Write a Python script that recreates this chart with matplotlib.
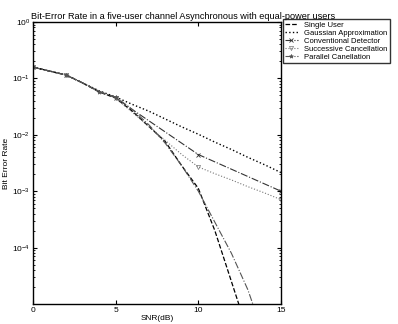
import matplotlib
matplotlib.use("Agg")
import matplotlib.pyplot as plt
import numpy as np

snr = [0, 1, 2, 3, 4, 5, 6, 7, 8, 9, 10, 11, 12, 13, 14, 15]

# log10 of the bit error rate
single_user = [-0.80, -0.87, -0.94, -1.08, -1.24, -1.35, -1.58, -1.85,
               -2.12, -2.55, -2.95, -3.70, -4.60, -5.50, np.nan, np.nan]
gaussian = [-0.80, -0.87, -0.94, -1.08, -1.22, -1.33, -1.46, -1.58,
            -1.72, -1.86, -1.99, -2.13, -2.26, -2.40, -2.53, -2.67]
conventional = [-0.80, -0.87, -0.94, -1.08, -1.23, -1.34, -1.55, -1.75,
                -1.95, -2.15, -2.35, -2.48, -2.61, -2.74, -2.87, -3.00]
successive = [-0.80, -0.87, -0.94, -1.08, -1.23, -1.35, -1.60, -1.85,
              -2.10, -2.35, -2.57, -2.69, -2.80, -2.92, -3.03, -3.15]
parallel = [-0.80, -0.87, -0.94, -1.08, -1.24, -1.33, -1.55, -1.82,
            -2.15, -2.55, -3.00, -3.55, -4.10, -4.75, -5.60, np.nan]

labels = ["Single User", "Gaussian Approximation", "Conventional Detector",
          "Successive Cancellation", "Parallel Canellation"]

plt.rcParams['font.family'] = ['Liberation Sans', 'DejaVu Sans']

fig = plt.figure(figsize=(3.98, 3.24), dpi=100)
ax = fig.add_axes([33 / 398, 20 / 324, 248 / 398, 282 / 324])

x = np.array(snr)
ax.semilogy(x, 10 ** np.array(single_user), '--', color='black', lw=0.9, label=labels[0])
ax.semilogy(x, 10 ** np.array(gaussian), ':', color='black', lw=1.0, label=labels[1])
ax.semilogy(x, 10 ** np.array(conventional), '-.', color='#333333', lw=0.8,
            marker='x', ms=3, mew=0.6, markevery=[0, 2, 5, 10, 15], label=labels[2])
ax.semilogy(x, 10 ** np.array(successive), ':', color='#777777', lw=0.8,
            marker='v', ms=3, mew=0.5, mfc='none', markevery=[0, 2, 5, 10, 15], label=labels[3])
ax.semilogy(x, 10 ** np.array(parallel), '-.', color='#555555', lw=0.8,
            marker='*', ms=3, mew=0.5, markevery=[0, 2, 4, 5], label=labels[4])

ax.set_xlim(0, 15)
ax.set_ylim(1e-5, 1)
ax.set_xticks([0, 5, 10, 15])
ax.set_yticks([1e-4, 1e-3, 1e-2, 1e-1, 1])
ax.tick_params(which='both', direction='in', top=True, right=True, labelsize=6, pad=2)
ax.tick_params(which='major', length=3, width=0.8)
ax.tick_params(which='minor', length=1.5, width=0.6)
for s in ax.spines.values():
    s.set_linewidth(1.0)

ax.set_title("Bit-Error Rate in a five-user channel Asynchronous with equal-power users",
             fontsize=6.6, loc='left', pad=2, x=-0.01)
ax.set_xlabel("SNR(dB)", fontsize=6, labelpad=1)
ax.set_ylabel("Bit Error Rate", fontsize=6, labelpad=2)

fig.legend(loc='upper left', bbox_to_anchor=(283 / 398, 1 - 19 / 324), fontsize=5.5,
           frameon=True, fancybox=False, edgecolor='black', handlelength=1.6,
           borderpad=0.3, labelspacing=0.1, handletextpad=0.9, borderaxespad=0)

fig.savefig("out.png", dpi=100)
